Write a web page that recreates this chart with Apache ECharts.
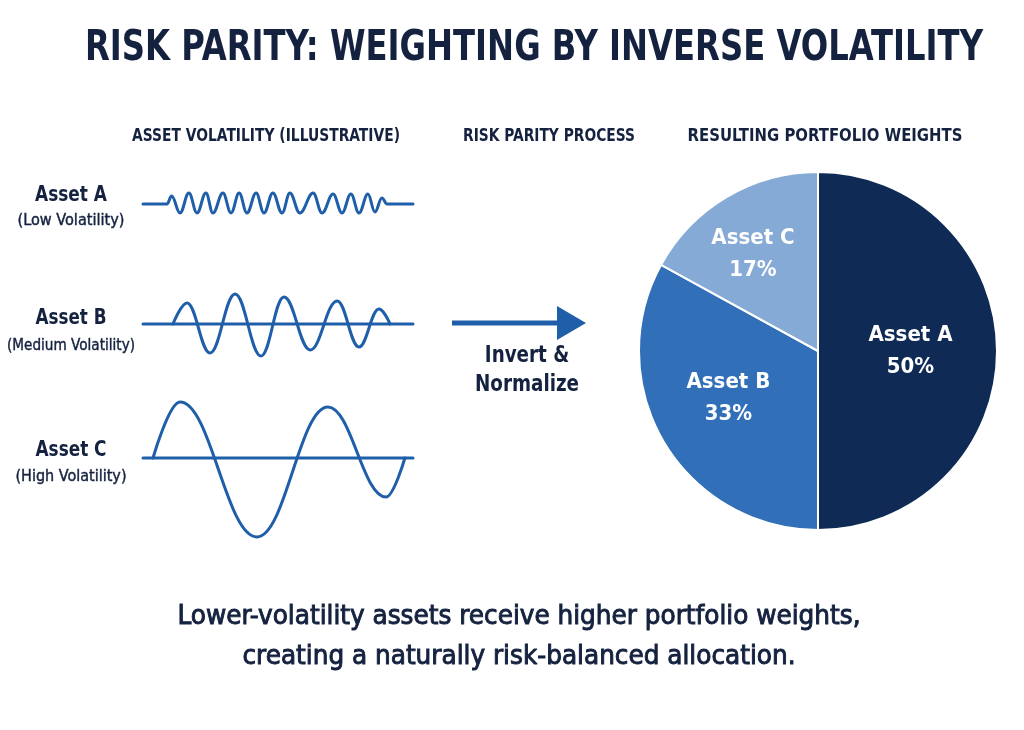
<!DOCTYPE html>
<html>
<head>
<meta charset="utf-8">
<script src="https://cdn.jsdelivr.net/npm/echarts@6/dist/echarts.min.js"></script>
<style>
html,body{margin:0;padding:0;background:#ffffff;}
#chart{width:1024px;height:730px;}
</style>
</head>
<body>
<div id="chart"></div>
<script>
// ---- Data ----
const assetNames = ['Asset A', 'Asset B', 'Asset C'];
const assetSubtitles = ['(Low Volatility)', '(Medium Volatility)', '(High Volatility)'];
const portfolioWeights = [50, 33, 17];

// Illustrative return paths (peaks and troughs): [time, deviation]
const waveA = [[0,0],[8.9,0],[10.6,8],[13.7,-9],[17.0,11],[20.0,-9],[23.3,11],[25.9,-9],[29.6,11],[32.6,-9],
  [35.6,11],[38.5,-9],[41.9,11],[44.8,-9],[48.1,11],[51.5,-9],[54.4,11],[58.1,-9],[63.0,11],[66.3,-9],
  [70.4,10],[73.7,-9],[77.0,10],[80.0,-9],[83.3,10],[85.9,-8],[88.5,6],[90.4,0],[100,0]];
const waveB = [[11.1,0],[16.3,21],[24.8,-29],[34.1,30],[43.7,-32],[52.2,27],[61.9,-26],[71.9,23],[80.0,-23],[87.4,15],[91.5,0]];
const waveC = [[3.7,0],[13.7,56],[42.2,-79],[68.5,51],[90.0,-39],[97.0,0]];
const baseline = [[0,0],[100,0]];

const titleText = 'RISK PARITY: WEIGHTING BY INVERSE VOLATILITY';
const sectionHeaders = ['ASSET VOLATILITY (ILLUSTRATIVE)', 'RISK PARITY PROCESS', 'RESULTING PORTFOLIO WEIGHTS'];
const processText = 'Invert &\nNormalize';
const footerText = 'Lower-volatility assets receive higher portfolio weights,\ncreating a naturally risk-balanced allocation.';

// ---- Styles ----
const NAVY = '#14213f';
const LINE = '#1f5ea8';
const COND = "'Liberation Sans Narrow','DejaVu Sans Condensed','Roboto Condensed',Roboto,sans-serif";
const pieColors = ['#0e2a55', '#3170b8', '#86aad6'];
const pieLabelOffsets = [[0, 0], [-10, 0], [-18, -17]];

const baselinesPx = [204, 324, 458];
const grids = baselinesPx.map(b => ({left: 143, width: 270, top: b - 80, height: 160}));
const xAxes = grids.map((g, i) => ({gridIndex: i, type: 'value', min: 0, max: 100, show: false}));
const yAxes = grids.map((g, i) => ({gridIndex: i, type: 'value', min: -80, max: 80, show: false}));

function lineSeries(data, idx, smooth) {
  return {type: 'line', xAxisIndex: idx, yAxisIndex: idx, data: data, smooth: smooth, smoothMonotone: 'x',
    showSymbol: false, symbol: 'none', silent: true,
    lineStyle: {color: LINE, width: 3, cap: 'round', join: 'round'}, z: 3};
}

// text helper: horizontally fit text to a measured width from the reference
const mctx = document.createElement('canvas').getContext('2d');
function txt(x, y, text, font, targetW, extra) {
  mctx.font = font;
  const w = Math.max.apply(null, text.split('\n').map(l => mctx.measureText(l).width));
  const s = targetW ? targetW / w : 1;
  return {type: 'text', x: x, y: y, scaleX: s, scaleY: 1,
    style: Object.assign({text: text, font: font, fill: NAVY, align: 'center', verticalAlign: 'middle'}, extra || {})};
}

const els = [];
els.push(txt(534, 49, titleText, 'bold 43px ' + COND, 898));
const headerX = [266, 549, 825];
const headerW = [268, 172, 275];
sectionHeaders.forEach((h, i) => els.push(txt(headerX[i], 137, h, 'bold 17px ' + COND, headerW[i])));
const labelY = [[196, 221], [319, 346], [451, 477]];
const nameW = [72, 71, 71];
const subW = [107, 128, 111];
assetNames.forEach((n, i) => {
  els.push(txt(71, labelY[i][0], n, 'bold 21px ' + COND, nameW[i]));
  els.push(txt(71, labelY[i][1], assetSubtitles[i], '16px ' + COND, subW[i], {stroke: NAVY, lineWidth: 0.4}));
});
els.push(txt(527, 371, processText, 'bold 23px ' + COND, 104, {lineHeight: 29}));
els.push(txt(519, 637, footerText, '27px ' + COND, 683, {lineHeight: 40, stroke: NAVY, lineWidth: 0.9}));
// arrow
els.push({type: 'line', shape: {x1: 452, y1: 323, x2: 560, y2: 323}, style: {stroke: LINE, lineWidth: 5}});
els.push({type: 'polygon', shape: {points: [[557, 306], [586, 323], [557, 340]]}, style: {fill: LINE}});

const chart = echarts.init(document.getElementById('chart'));
chart.setOption({
  backgroundColor: '#ffffff',
  animation: false,
  grid: grids,
  xAxis: xAxes,
  yAxis: yAxes,
  graphic: els,
  series: [
    lineSeries(waveA, 0, 0.4),
    lineSeries(baseline, 1, false),
    lineSeries(waveB, 1, 0.4),
    lineSeries(baseline, 2, false),
    lineSeries(waveC, 2, 0.4),
    {
      type: 'pie', center: [818, 351], radius: 179, startAngle: 90, clockwise: true, silent: true,
      itemStyle: {borderColor: '#ffffff', borderWidth: 2},
      label: {show: true, position: 'inside', color: '#ffffff', fontFamily: COND, fontWeight: 'bold', fontSize: 22, lineHeight: 32,
        formatter: p => p.name + '\n' + p.value + '%'},
      labelLine: {show: false},
      data: assetNames.map((n, i) => ({name: n, value: portfolioWeights[i], itemStyle: {color: pieColors[i]}, label: {offset: pieLabelOffsets[i]}}))
    }
  ]
});
</script>
</body>
</html>
